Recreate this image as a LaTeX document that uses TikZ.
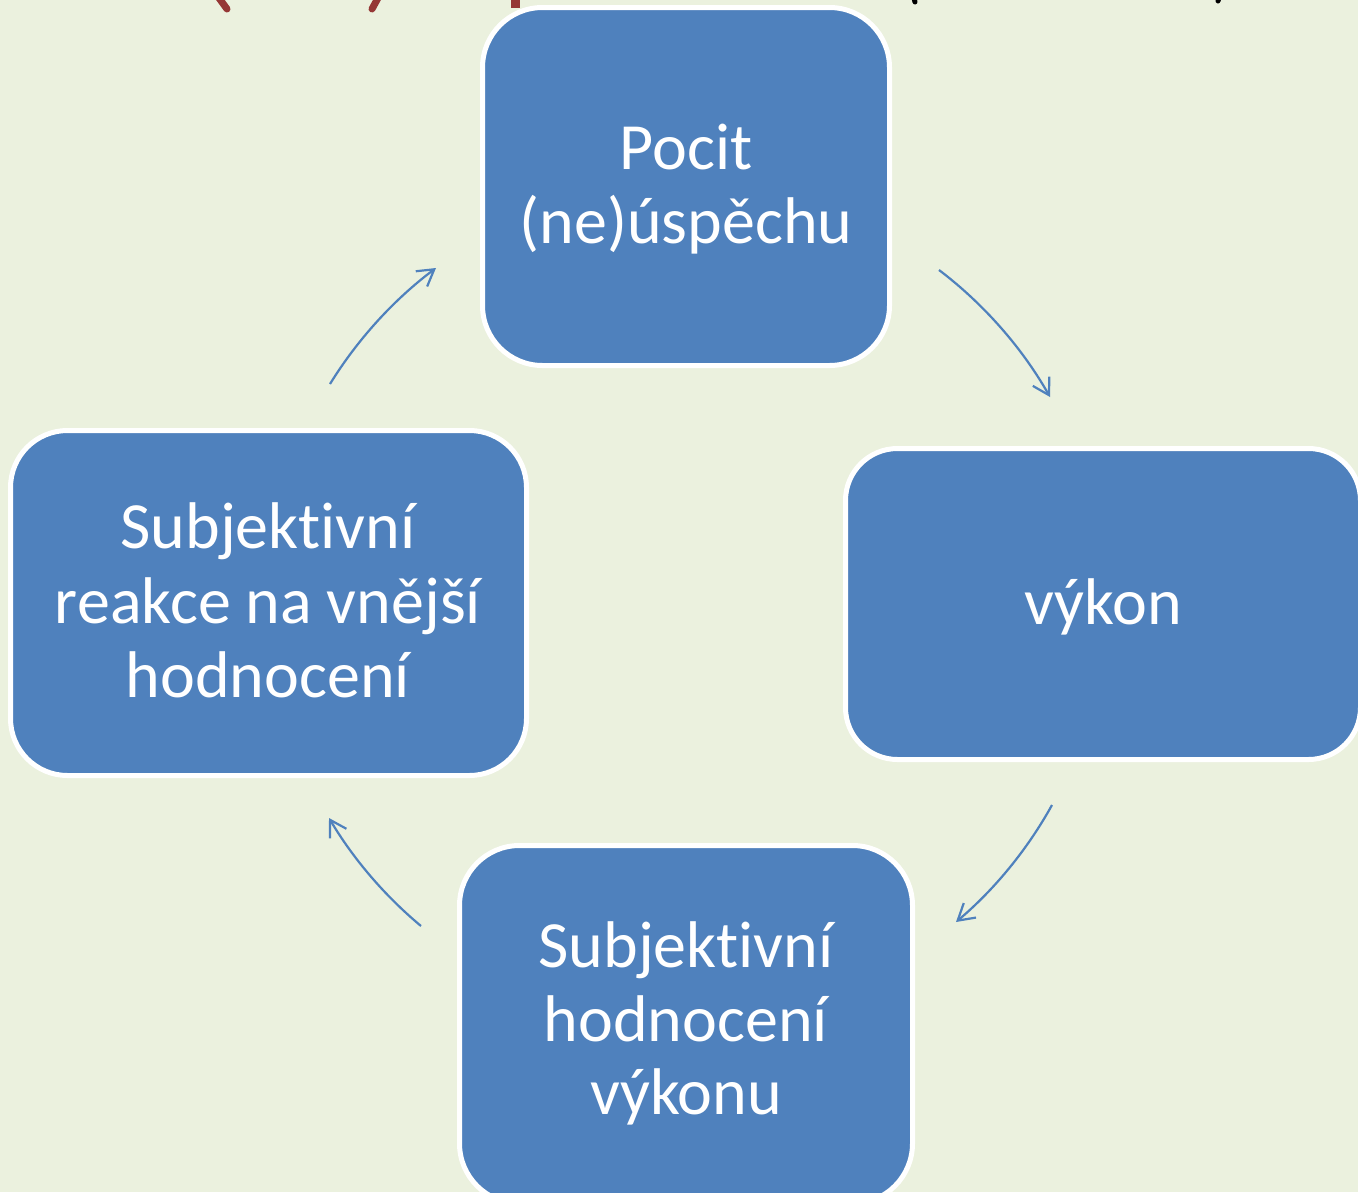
\documentclass[tikz,border=0pt]{standalone}
\usepackage{fontspec}
\setmainfont{Carlito}[Ligatures={NoCommon,NoContextual}]
\usetikzlibrary{arrows.meta}
\definecolor{bg}{HTML}{EBF1DE}
\definecolor{boxblue}{HTML}{4F81BD}
\definecolor{titlered}{HTML}{953735}
\begin{document}
\begin{tikzpicture}[x=1pt,y=1pt,
  box/.style={draw=white, line width=5pt, fill=boxblue, rectangle, inner sep=0pt},
  lbl/.style={text=white, font=\fontsize{66}{74}\selectfont, anchor=base, inner sep=0pt},
  arr/.style={draw=boxblue, line width=2.2pt, -{Straight Barb[length=16pt,width=19pt]}, looseness=0.85},
  frag/.style={line width=7pt, line cap=round}]
\useasboundingbox[fill=bg] (0,0) rectangle (1358,-1192);
\begin{scope}
\clip (0,0) rectangle (1358,-1192);
% fragments of the cut-off title
\draw[frag, titlered] (219,2) -- (227,-9);
\draw[frag, titlered] (378,2) -- (372,-9);
\draw[frag, titlered, line cap=butt, line width=9pt] (515,2) -- (515,-8);
\draw[frag, black, line width=5pt] (914,2) -- (915,-2);
\draw[frag, black, line width=5pt] (1219,2) -- (1218,-1);
% boxes
\node[box, rounded corners=60pt, minimum width=407pt, minimum height=358pt] (top) at (686,-186.5) {};
\node[box, rounded corners=52pt, minimum width=515pt, minimum height=311pt] (right) at (1103,-604) {};
\node[box, rounded corners=60pt, minimum width=453pt, minimum height=358pt] (bottom) at (686,-1024.5) {};
\node[box, rounded corners=57pt, minimum width=516pt, minimum height=345pt] (left) at (268.5,-603) {};
% texts
\node[lbl] (t1) at (686,-169) {Pocit};
\node[lbl] (t2) at (686,-243) {(ne)úspěchu};
\node[lbl] (r1) at (1103,-624) {výkon};
\node[lbl] (b1) at (686,-967) {Subjektivní};
\node[lbl] (b2) at (686,-1041) {hodnocení};
\node[lbl] (b3) at (686,-1114) {výkonu};
\node[lbl] (l1) at (268,-548) {Subjektivní};
\node[lbl] (l2) at (268,-623) {reakce na vnější};
\node[lbl] (l3) at (268,-697) {hodnocení};
% arrows
\coordinate (a1s) at (939,-270); \coordinate (a1e) at (1050,-397);
\coordinate (a2s) at (1052,-805); \coordinate (a2e) at (956,-922);
\coordinate (a3s) at (421,-926); \coordinate (a3e) at (329,-818);
\coordinate (a4s) at (330,-384); \coordinate (a4e) at (436,-268);
\draw[arr] (a1s) to[bend left=11.7] (a1e);
\draw[arr] (a2s) to[bend left=10.5] (a2e);
\draw[arr] (a3s) to[bend left=9.8] (a3e);
\draw[arr] (a4s) to[bend left=10.8] (a4e);
\end{scope}
\end{tikzpicture}
\end{document}
